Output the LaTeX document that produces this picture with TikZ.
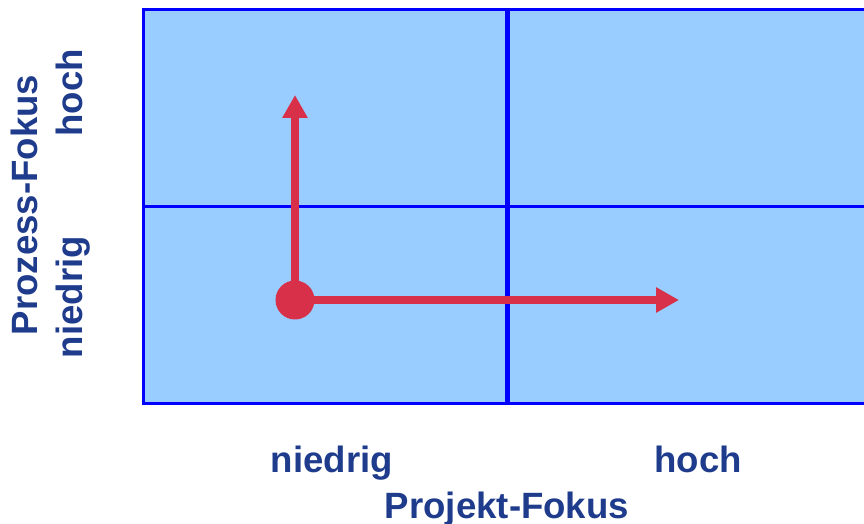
\documentclass[tikz,border=0pt]{standalone}
\usepackage{fontspec}
\setmainfont{Liberation Sans}
\usetikzlibrary{arrows.meta}

\definecolor{cellblue}{HTML}{99CCFF}
\definecolor{gridblue}{HTML}{0000FF}
\definecolor{arrowred}{HTML}{D9304A}
\definecolor{textnavy}{HTML}{1F3C8C}

\begin{document}
\begin{tikzpicture}[x=0.5pt,y=-0.5pt,
    axislabel/.style={text=textnavy, font=\bfseries\fontsize{18.3}{22}\selectfont, inner sep=0pt, anchor=base},
    focusarrow/.style={arrowred, line width=3.75pt, -{Triangle[length=11.5pt,width=12pt]}}]
  \useasboundingbox (0,0) rectangle (864,524);
  \clip (0,0) rectangle (864,524);

  % Matrix with four cells (runs off the right edge)
  \draw[line width=1.5pt, draw=gridblue, fill=cellblue] (143,9.5) rectangle (875,404);
  \draw[line width=1.25pt, gridblue] (143,206.5) -- (875,206.5);
  \draw[line width=2.5pt, gridblue] (507.5,9.5) -- (507.5,404);

  % Start point and the two arrows
  \node[circle, fill=arrowred, minimum size=19.5pt, inner sep=0pt] (start) at (295,300) {};
  \coordinate (uptip) at (295,95);
  \coordinate (righttip) at (679,300);
  \draw[focusarrow] (start.center) -- (uptip);
  \draw[focusarrow] (start.center) -- (righttip);

  % Axis labels
  \node[axislabel] (xlow) at (332,473) {niedrig};
  \node[axislabel] (xhigh) at (698,473) {hoch};
  \node[axislabel] (xtitle) at (507,518) {Projekt-Fokus};
  \node[axislabel, rotate=90] (ylow) at (83,297) {niedrig};
  \node[axislabel, rotate=90] (yhigh) at (83,93) {hoch};
  \node[axislabel, rotate=90] (ytitle) at (38,205) {Prozess-Fokus};
\end{tikzpicture}
\end{document}
